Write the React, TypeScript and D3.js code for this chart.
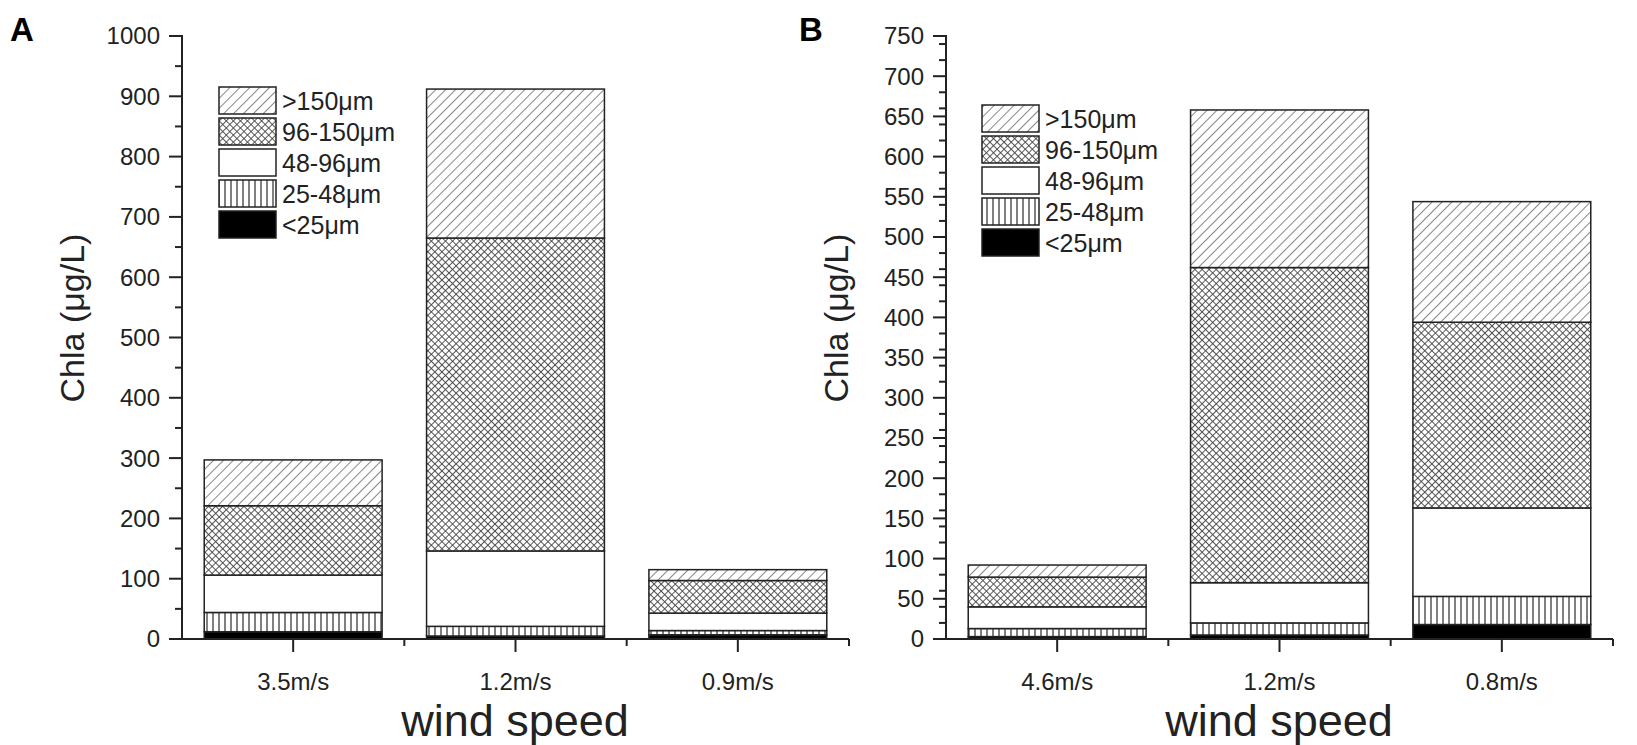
import { useEffect } from 'react';
import * as d3 from 'd3';

// size classes, bottom to top of each stack
const sizeClasses = ['<25μm', '25-48μm', '48-96μm', '96-150μm', '>150μm'];
const patternIds = ['solid', 'vert', 'open', 'cross', 'hatch'];

// panel A
const catsA = ['3.5m/s', '1.2m/s', '0.9m/s'];
const lt25A = [12, 5, 7];
const s25to48A = [32, 16, 7];
const s48to96A = [62, 125, 29];
const s96to150A = [115, 519, 54];
const gt150A = [76, 247, 18];

// panel B
const catsB = ['4.6m/s', '1.2m/s', '0.8m/s'];
const lt25B = [3, 5, 18];
const s25to48B = [10, 15, 35];
const s48to96B = [27, 50, 110];
const s96to150B = [37, 392, 231];
const gt150B = [15, 196, 150];

const W = 1637;
const H = 745;
const TOP = 36;
const BOTTOM = 639;
const FONT = '"Liberation Sans", Arial, sans-serif';
const INK = '#222';

interface PanelProps {
  letter: string;
  letterX: number;
  cats: string[];
  series: number[][];
  yMax: number;
  majorCount: number;
  minorCount: number;
  x0: number;
  legendX: number;
  legendY: number;
}

const fillFor = (i: number) => (patternIds[i] === 'open' ? '#fff' : patternIds[i] === 'solid' ? '#000' : `url(#${patternIds[i]})`);

const Panel = ({ letter, letterX, cats, series, yMax, majorCount, minorCount, x0, legendX, legendY }: PanelProps) => {
  const x = d3.scaleBand<string>().domain(cats).range([x0, x0 + 667]).paddingInner(0.2).paddingOuter(0.1);
  const y = d3.scaleLinear().domain([0, yMax]).range([BOTTOM, TOP]);

  const rows = cats.map((c, j) => {
    const r: any = { cat: c };
    sizeClasses.forEach((s, i) => (r[s] = series[i][j]));
    return r;
  });
  const stacked = d3.stack<any>().keys(sizeClasses)(rows);

  const major = y.ticks(majorCount);
  const minor = y.ticks(minorCount).filter(v => !major.includes(v));
  const step = x.step();
  const bounds = d3.range(1, cats.length + 1).map(k => x0 + k * step);

  return (
    <g>
      <text x={letterX} y={41} fontFamily={FONT} fontWeight="bold" fontSize={33} fill="#000">{letter}</text>

      {stacked.map((layer, i) => (
        <g key={layer.key}>
          {layer.map((d, j) => (
            <rect key={j} x={x(cats[j])} y={y(d[1])} width={x.bandwidth()} height={y(d[0]) - y(d[1])}
              fill={fillFor(i)} stroke={INK} strokeWidth={1.5} />
          ))}
        </g>
      ))}

      {/* y axis */}
      <line x1={x0} x2={x0} y1={TOP - 1} y2={BOTTOM} stroke={INK} strokeWidth={2} />
      {major.map(v => (
        <g key={v}>
          <line x1={x0 - 13} x2={x0} y1={y(v)} y2={y(v)} stroke={INK} strokeWidth={2} />
          <text x={x0 - 22} y={y(v)} dy="0.35em" textAnchor="end" fontFamily={FONT} fontSize={24} fill={INK}>{v}</text>
        </g>
      ))}
      {minor.map(v => (
        <line key={v} x1={x0 - 7} x2={x0} y1={y(v)} y2={y(v)} stroke={INK} strokeWidth={2} />
      ))}

      {/* x axis */}
      <line x1={x0} x2={x0 + 667} y1={BOTTOM} y2={BOTTOM} stroke={INK} strokeWidth={2} />
      {cats.map(c => (
        <g key={c}>
          <line x1={x(c)! + x.bandwidth() / 2} x2={x(c)! + x.bandwidth() / 2} y1={BOTTOM} y2={BOTTOM + 13} stroke={INK} strokeWidth={2} />
          <text x={x(c)! + x.bandwidth() / 2} y={690} textAnchor="middle" fontFamily={FONT} fontSize={24} fill={INK}>{c}</text>
        </g>
      ))}
      {bounds.map(b => (
        <line key={b} x1={b} x2={b} y1={BOTTOM} y2={BOTTOM + 7} stroke={INK} strokeWidth={2} />
      ))}

      <text x={x0 + 333} y={736} textAnchor="middle" fontFamily={FONT} fontSize={45} fill={INK}>wind speed</text>
      <text transform={`translate(${x0 - 98},318) rotate(-90)`} textAnchor="middle"
        fontFamily={FONT} fontSize={34} fill={INK}>Chla (μg/L)</text>

      {/* legend, top class first */}
      {sizeClasses.map((s, i) => {
        const k = sizeClasses.length - 1 - i;
        const yy = legendY + k * 31;
        return (
          <g key={s}>
            <rect x={legendX} y={yy} width={57} height={27} fill={fillFor(i)} stroke={INK} strokeWidth={1.5} />
            <text x={legendX + 63} y={yy + 14} dy="0.35em" fontFamily={FONT} fontSize={25} fill={INK}>{s}</text>
          </g>
        );
      })}
    </g>
  );
};

export default function App() {
  useEffect(() => {
    document.body.style.margin = '0';
  }, []);

  const seriesA = [lt25A, s25to48A, s48to96A, s96to150A, gt150A];
  const seriesB = [lt25B, s25to48B, s48to96B, s96to150B, gt150B];

  return (
    <svg width={W} height={H} style={{ display: 'block', background: '#fff' }}>
      <defs>
        <pattern id="hatch" width={7} height={7} patternUnits="userSpaceOnUse" patternTransform="rotate(45)">
          <rect width={7} height={7} fill="#fff" />
          <line x1={0} y1={0} x2={0} y2={7} stroke="#555" strokeWidth={1.4} />
        </pattern>
        <pattern id="cross" width={5} height={5} patternUnits="userSpaceOnUse" patternTransform="rotate(45)">
          <rect width={5} height={5} fill="#fff" />
          <line x1={0} y1={0} x2={0} y2={5} stroke="#444" strokeWidth={1.8} />
          <line x1={0} y1={0} x2={5} y2={0} stroke="#444" strokeWidth={1.8} />
        </pattern>
        <pattern id="vert" width={6} height={6} patternUnits="userSpaceOnUse">
          <rect width={6} height={6} fill="#fff" />
          <line x1={3} y1={0} x2={3} y2={6} stroke="#555" strokeWidth={1.5} />
        </pattern>
      </defs>
      <rect width={W} height={H} fill="#fff" />
      <Panel letter="A" letterX={10} cats={catsA} series={seriesA} yMax={1000} majorCount={10} minorCount={20}
        x0={182} legendX={219} legendY={87} />
      <Panel letter="B" letterX={799} cats={catsB} series={seriesB} yMax={750} majorCount={15} minorCount={30}
        x0={946} legendX={982} legendY={105} />
    </svg>
  );
}
